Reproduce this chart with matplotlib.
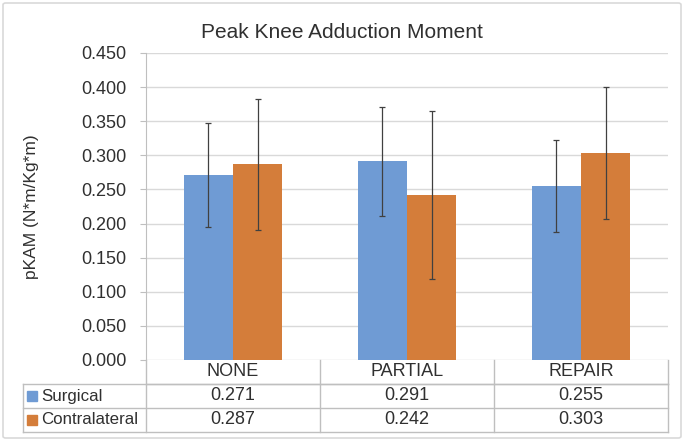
import matplotlib
matplotlib.use("Agg")
import matplotlib.pyplot as plt
import matplotlib.transforms as mtransforms
from matplotlib.patches import FancyBboxPatch, Rectangle
import numpy as np

plt.rcParams['font.family'] = ['Liberation Sans', 'DejaVu Sans']

categories = ["NONE", "PARTIAL", "REPAIR"]
series_names = ["Surgical", "Contralateral"]
surgical = [0.271, 0.291, 0.255]
contralateral = [0.287, 0.242, 0.303]
surgical_err = [0.076, 0.080, 0.068]
contralateral_err = [0.096, 0.123, 0.097]
yticks = [0.0, 0.05, 0.10, 0.15, 0.20, 0.25, 0.30, 0.35, 0.40, 0.45]

colors = ["#6F9BD4", "#D47D3A"]
txt = "#303030"
fs = 13
W, H = 684, 441
fig = plt.figure(figsize=(W / 100, H / 100), dpi=100)

# outer chart border
fig.patches.append(FancyBboxPatch((3 / W, 3 / H), 678 / W, 435 / H,
                                  boxstyle="round,pad=0,rounding_size=0.004",
                                  transform=fig.transFigure, fill=False,
                                  edgecolor="#D9D9D9", linewidth=1.2))

left, right, top, bottom = 146, 668, 53, 360
ax = fig.add_axes([left / W, 1 - bottom / H, (right - left) / W, (bottom - top) / H])
ax.set_xlim(-0.5, 2.5)
ax.set_ylim(0, 0.45)
ax.set_yticks(yticks)
ax.set_yticklabels([f"{v:.3f}" for v in yticks], fontsize=fs, color=txt)
ax.set_xticks([])
for s in ["top", "right", "bottom"]:
    ax.spines[s].set_visible(False)
ax.spines["left"].set_color("#BFBFBF")
ax.tick_params(axis="y", length=4, color="#BFBFBF", pad=10)
ax.yaxis.grid(True, color="#D9D9D9", linewidth=1)
ax.set_axisbelow(True)

x = np.arange(len(categories))
bw = 0.284
ekw = dict(ecolor="#404040", elinewidth=0.9, capsize=2.5, capthick=0.9)
ax.bar(x - bw / 2, surgical, bw, color=colors[0], yerr=surgical_err, error_kw=ekw, zorder=2)
ax.bar(x + bw / 2, contralateral, bw, color=colors[1], yerr=contralateral_err, error_kw=ekw, zorder=2)

ax.set_ylabel("pKAM (N*m/Kg*m)", fontsize=12.5, color=txt)
ax.yaxis.set_label_coords((39 - left) / (right - left), 0.5)
fig.text(0.5, 1 - 33 / H, "Peak Knee Adduction Moment", ha="center", va="center",
         fontsize=15, color=txt)

# data table below the axes
trans = mtransforms.blended_transform_factory(ax.transData, ax.transAxes)
ah = bottom - top
rh = 24 / ah
lc = "#BFBFBF"
label_left = (23 - left) / (right - left)
ax.plot([-0.5, 2.5], [-rh, -rh], transform=trans, color=lc, lw=1, clip_on=False)
for k in (1, 2, 3):
    ax.plot([label_left, 1], [-rh * k, -rh * k], transform=ax.transAxes,
            color=lc, lw=1, clip_on=False)
ax.plot([label_left, label_left], [-rh, -3 * rh], transform=ax.transAxes,
        color=lc, lw=1, clip_on=False)
ax.plot([0, 0], [0, -3 * rh], transform=ax.transAxes, color=lc, lw=1, clip_on=False)
for b in [0.5, 1.5, 2.5]:
    ax.plot([b, b], [0, -3 * rh], transform=trans, color=lc, lw=1, clip_on=False)

for i, c in enumerate(categories):
    ax.text(i, -rh * 0.5, c, transform=trans, ha="center", va="center",
            fontsize=fs, color=txt)
for r, (name, vals) in enumerate([(series_names[0], surgical), (series_names[1], contralateral)]):
    yc = -rh * (1.5 + r)
    for i, v in enumerate(vals):
        ax.text(i, yc, f"{v:.3f}", transform=trans, ha="center", va="center",
                fontsize=fs, color=txt)
    sq = 10 / (right - left)
    sqh = 10 / ah
    ax.add_patch(Rectangle((label_left + 4 / (right - left), yc - sqh / 2), sq, sqh,
                           transform=ax.transAxes, color=colors[r], clip_on=False))
    ax.text(label_left + 18 / (right - left), yc, name, transform=ax.transAxes,
            ha="left", va="center", fontsize=12.2, color=txt)

fig.savefig("out.png", dpi=100)
